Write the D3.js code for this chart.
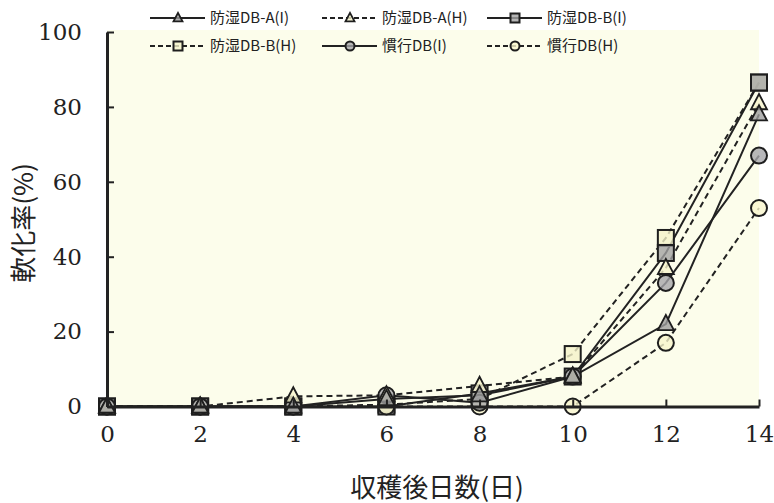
<!DOCTYPE html>
<html>
<head>
<meta charset="utf-8">
<script src="https://cdn.jsdelivr.net/npm/d3@7"></script>
<style>
  body { margin: 0; background: #fff; }
  svg { display: block; }
</style>
</head>
<body>
<svg width="774" height="503"></svg>
<script>
// days after harvest
var days = [0, 2, 4, 6, 8, 10, 12, 14];
var xTicks = [0, 2, 4, 6, 8, 10, 12, 14];
var yTicks = [0, 20, 40, 60, 80, 100];

// softening rate (%)
var dbA_I = [0, 0, 0, 2, 3, 8, 22, 78];
var dbA_H = [0, 0, 2.7, 3, 5.5, 8, 37, 81];
var dbB_I = [0, 0, 0, 0, 3.5, 8, 41, 86.5];
var dbB_H = [0, 0, 0, 0.5, 2, 14, 45, 86.5];
var kanko_I = [0, 0, 0, 3, 1, 8, 33, 67];
var kanko_H = [0, 0, 0, 0, 0, 0, 17, 53];

var seriesNames = ["防湿DB-A(I)", "防湿DB-A(H)", "防湿DB-B(I)", "防湿DB-B(H)", "慣行DB(I)", "慣行DB(H)"];

var series = [
  { name: seriesNames[0], values: dbA_I, shape: "tri", dashed: false, fill: "#9e9e9e" },
  { name: seriesNames[1], values: dbA_H, shape: "tri", dashed: true, fill: "#f6f4cc" },
  { name: seriesNames[2], values: dbB_I, shape: "sq", dashed: false, fill: "#a3a3a3" },
  { name: seriesNames[3], values: dbB_H, shape: "sq", dashed: true, fill: "#f4f2c9" },
  { name: seriesNames[4], values: kanko_I, shape: "circ", dashed: false, fill: "#a6a6aa" },
  { name: seriesNames[5], values: kanko_H, shape: "circ", dashed: true, fill: "#f8f5cc" }
];

var svg = d3.select("svg");
var pLeft = 107, pRight = 759, pTop = 32, pBottom = 406.5;

var xScale = d3.scaleLinear().domain([0, 14]).range([pLeft, pRight]);
var yScale = d3.scaleLinear().domain([0, 100]).range([pBottom, pTop]);

var serif = "'DejaVu Serif', 'Liberation Serif', serif";
var cjk = "'Noto Sans CJK JP', 'Noto Sans CJK SC', sans-serif";

// plot background
svg.append("rect")
  .attr("x", pLeft).attr("y", pTop - 2)
  .attr("width", pRight - pLeft).attr("height", pBottom - pTop + 2)
  .style("fill", "#fcfdeb");

// lines
var line = d3.line()
  .x(function (d, i) { return xScale(days[i]); })
  .y(function (d) { return yScale(d); });

var g = svg.append("g");
series.forEach(function (s) {
  g.append("path")
    .datum(s.values)
    .attr("d", line)
    .style("fill", "none")
    .style("stroke", "#222")
    .style("stroke-width", 2)
    .style("stroke-dasharray", s.dashed ? "6,4" : null);
});

function drawMarker(sel, shape, fill, cx, cy, size) {
  if (shape == "sq") {
    sel.append("rect")
      .attr("x", cx - size / 2).attr("y", cy - size / 2)
      .attr("width", size).attr("height", size)
      .style("fill", fill).style("fill-opacity", 0.8)
      .style("stroke", "#1e1e1e").style("stroke-width", 2);
  } else if (shape == "circ") {
    sel.append("circle")
      .attr("cx", cx).attr("cy", cy).attr("r", size / 2)
      .style("fill", fill).style("fill-opacity", 0.8)
      .style("stroke", "#1e1e1e").style("stroke-width", 2);
  } else {
    var h = size * 0.95;
    sel.append("path")
      .attr("d", "M" + cx + "," + (cy - h * 0.6) + "L" + (cx + size / 2) + "," + (cy + h * 0.4) +
        "L" + (cx - size / 2) + "," + (cy + h * 0.4) + "Z")
      .style("fill", fill).style("fill-opacity", 0.8)
      .style("stroke", "#1e1e1e").style("stroke-width", 1.8);
  }
}

// markers: squares and circles first, triangles on top
var order = [3, 2, 5, 4, 1, 0];
order.forEach(function (k) {
  var s = series[k];
  var mg = svg.append("g");
  s.values.forEach(function (v, i) {
    drawMarker(mg, s.shape, s.fill, xScale(days[i]), yScale(v), 16);
  });
});

// axes
var yAxis = svg.append("g")
  .attr("transform", "translate(" + pLeft + ",0)")
  .call(d3.axisLeft(yScale).tickValues(yTicks).tickSize(-7).tickPadding(25).tickSizeOuter(0));
var xAxis = svg.append("g")
  .attr("transform", "translate(0," + pBottom + ")")
  .call(d3.axisBottom(xScale).tickValues(xTicks).tickSize(-7).tickPadding(19).tickSizeOuter(0));

[xAxis, yAxis].forEach(function (ax) {
  ax.select(".domain").style("stroke", "#222").style("stroke-width", 3);
  ax.selectAll(".tick line").style("stroke", "#222").style("stroke-width", 2);
  ax.selectAll("text")
    .style("font-family", serif)
    .style("font-size", "23px")
    .style("fill", "#222");
});

// axis titles
svg.append("text")
  .attr("transform", "translate(33,223)rotate(-90)")
  .attr("text-anchor", "middle")
  .style("font-family", cjk)
  .style("font-size", "26px")
  .style("fill", "#222")
  .text("軟化率(%)");

svg.append("text")
  .attr("x", 437)
  .attr("y", 497)
  .attr("text-anchor", "middle")
  .style("font-family", cjk)
  .style("font-size", "26px")
  .style("fill", "#222")
  .text("収穫後日数(日)");

// legend
var legendPos = [
  [150, 18], [322, 18], [487, 18],
  [150, 46], [322, 46], [487, 46]
];
series.forEach(function (s, i) {
  var lx = legendPos[i][0], ly = legendPos[i][1];
  var lg = svg.append("g");
  lg.append("line")
    .attr("x1", lx).attr("x2", lx + 55)
    .attr("y1", ly).attr("y2", ly)
    .style("stroke", "#222")
    .style("stroke-width", 2)
    .style("stroke-dasharray", s.dashed ? "5,3" : null);
  drawMarker(lg, s.shape, s.fill, lx + 28, ly, 9);
  lg.append("text")
    .attr("x", lx + 60)
    .attr("y", ly + 5)
    .style("font-family", cjk)
    .style("font-size", "15px")
    .style("fill", "#222")
    .text(s.name);
});
</script>
</body>
</html>
